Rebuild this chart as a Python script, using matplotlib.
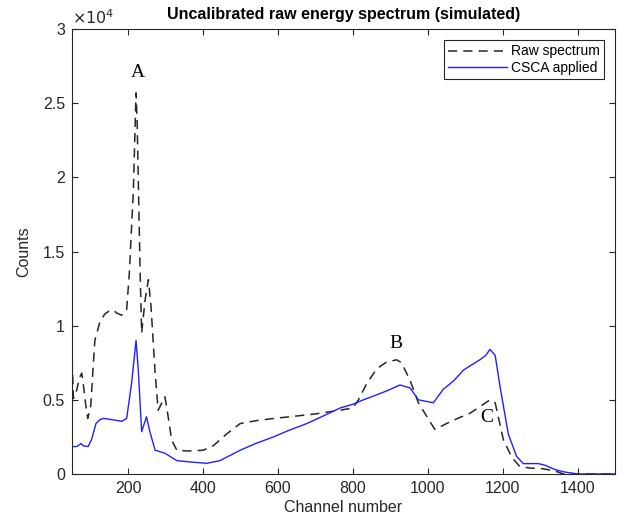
import matplotlib.pyplot as plt
from matplotlib.ticker import FuncFormatter

plt.rcParams['font.family'] = ['Liberation Sans', 'DejaVu Sans']

# raw spectrum (dashed), channel / counts
raw_ch = [50, 54, 62, 70, 76, 80, 86, 92, 100, 111, 125, 138, 150, 160, 170, 183, 196,
          203, 214, 221, 224, 232, 236, 245, 254, 261, 272, 280, 290, 298, 303, 316,
          330, 360, 400, 427, 463, 499, 543, 590, 632, 700, 739, 766, 800, 815, 837,
          864, 890, 917, 930, 953, 975, 1019, 1050, 1080, 1113, 1140, 1166, 1180,
          1202, 1225, 1246, 1273, 1308, 1340, 1362, 1400, 1500]
raw_counts = [7700, 5100, 5600, 6500, 6800, 6100, 4800, 3750, 4600, 9000, 10300, 10800,
              11000, 11050, 10850, 10700, 11100, 13500, 19200, 25700, 23700, 13500,
              9500, 11700, 13100, 11300, 6800, 4300, 4800, 5200, 4500, 2300, 1600,
              1550, 1600, 1900, 2700, 3400, 3600, 3750, 3860, 4050, 4200, 4300, 4450,
              5000, 6100, 7100, 7550, 7700, 7500, 6300, 4800, 3000, 3400, 3750, 4100,
              4550, 5000, 4800, 2300, 1100, 500, 400, 350, 200, 0, 0, 0]

# CSCA applied (blue)
csca_ch = [50, 63, 74, 80, 93, 102, 114, 124, 134, 147, 160, 172, 183, 196, 209, 221,
           227, 236, 249, 258, 272, 298, 330, 370, 410, 445, 499, 540, 588, 630, 677,
           720, 766, 800, 828, 860, 890, 926, 953, 975, 1015, 1041, 1070, 1095, 1120,
           1139, 1155, 1166, 1180, 1193, 1215, 1237, 1255, 1275, 1295, 1312, 1340,
           1362, 1400, 1500]
csca_counts = [1850, 1850, 2050, 1900, 1850, 2300, 3400, 3650, 3750, 3700, 3650, 3600,
               3550, 3750, 6100, 9000, 7000, 2850, 3860, 2850, 1600, 1400, 900, 800,
               720, 900, 1600, 2050, 2500, 2950, 3400, 3900, 4450, 4700, 5000, 5300,
               5600, 6000, 5800, 5000, 4800, 5700, 6300, 7000, 7400, 7700, 8000, 8400,
               8000, 5900, 2700, 1200, 700, 700, 700, 600, 300, 150, 0, 0]

labels = ['A', 'B', 'C']
label_ch = [226, 915, 1158]
label_counts = [27100, 8800, 3800]

fig = plt.figure(figsize=(6.25, 5.29), dpi=100)
ax = fig.add_axes([0.1152, 0.104, 0.8688, 0.841])

ax.plot(raw_ch, raw_counts, color='#262626', lw=1.1, ls=(0, (6, 4)), label='Raw spectrum')
ax.plot(csca_ch, csca_counts, color='#2020ff', lw=1.0, label='CSCA applied')

for lab, cx, cy in zip(labels, label_ch, label_counts):
    ax.text(cx, cy, lab, family='Liberation Serif', fontsize=14, ha='center', va='center')

ax.set_xlim(50, 1500)
ax.set_ylim(0, 30000)
ax.set_xticks([200, 400, 600, 800, 1000, 1200, 1400])
ax.set_yticks([0, 5000, 10000, 15000, 20000, 25000, 30000])
ax.yaxis.set_major_formatter(FuncFormatter(lambda v, p: f'{v / 1e4:g}'))
ax.tick_params(direction='in', top=True, right=True, labelsize=11.5, colors='#262626',
               length=4, width=0.8, pad=5)
for s in ax.spines.values():
    s.set_color('#262626')
    s.set_linewidth(0.8)

ax.text(0.0, 1.005, r'$\times10^4$', transform=ax.transAxes, fontsize=11.5,
        color='#262626', ha='left', va='bottom')

ax.set_title('Uncalibrated raw energy spectrum (simulated)', fontsize=11.5,
             fontweight='bold', pad=7)
ax.set_xlabel('Channel number', fontsize=11.5, color='#262626', labelpad=3)
ax.set_ylabel('Counts', fontsize=11.5, color='#262626', labelpad=8)

leg = ax.legend(loc='upper right', fontsize=10, fancybox=False, framealpha=1,
                edgecolor='#262626', borderaxespad=0.8, handlelength=4.2,
                handletextpad=0.3, borderpad=0.3, labelspacing=0.2)
leg.get_frame().set_linewidth(0.8)

fig.savefig('out.png', dpi=100)
